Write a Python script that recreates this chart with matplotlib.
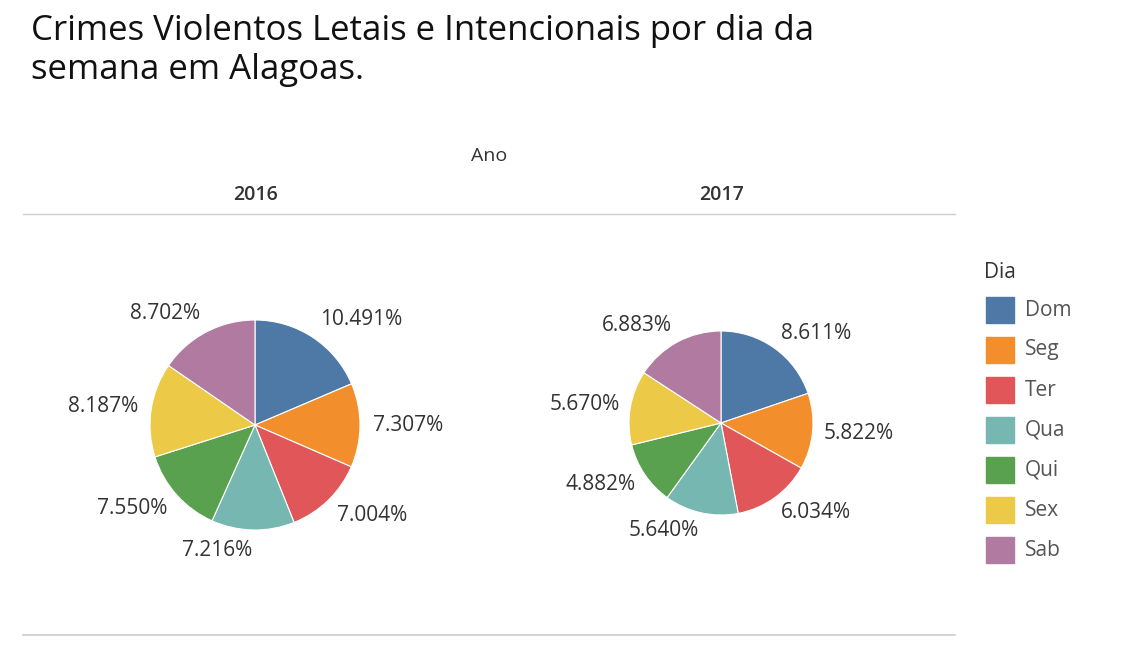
import matplotlib
matplotlib.use("Agg")
import numpy as np
import matplotlib.pyplot as plt
from matplotlib.patches import Rectangle

plt.rcParams['font.family'] = ['Open Sans', 'DejaVu Sans']

dias = ["Dom", "Seg", "Ter", "Qua", "Qui", "Sex", "Sab"]
anos = ["2016", "2017"]
pct_2016 = [10.491, 7.307, 7.004, 7.216, 7.550, 8.187, 8.702]
pct_2017 = [8.611, 5.822, 6.034, 5.640, 4.882, 5.670, 6.883]
cores = ["#4E79A7", "#F28E2B", "#E15759", "#76B7B2", "#59A14F", "#EDC948", "#B07AA1"]

W, H = 1132, 668
fig = plt.figure(figsize=(W / 100, H / 100), dpi=100)
ax = fig.add_axes([0, 0, 1, 1])

def Y(py):
    return H - py

fig.text(31 / W, 1 - 14 / H, "Crimes Violentos Letais e Intencionais por dia da\nsemana em Alagoas.",
         fontsize=25, va="top", ha="left", color="#111111", linespacing=1.2)
ax.text(489, Y(156), "Ano", fontsize=14, ha="center", va="center", color="#333333")
for ano, x in zip(anos, [256, 721]):
    ax.text(x, Y(195), ano, fontsize=14, ha="center", va="center", color="#333333", fontweight="semibold")
ax.plot([23, 955], [Y(214), Y(214)], color="#cccccc", lw=1)
ax.plot([23, 955], [Y(635), Y(635)], color="#cccccc", lw=1.2)

centros = [(255, 425), (721, 423)]
raios = [105, 92]
for vals, (cx, cy), r in zip([pct_2016, pct_2017], centros, raios):
    wedges, _ = ax.pie(vals, colors=cores, startangle=90, counterclock=False, center=(cx, Y(cy)),
                       radius=r, wedgeprops=dict(linewidth=0.8, edgecolor="white"), frame=True)
    for w, v in zip(wedges, vals):
        ang = np.radians((w.theta1 + w.theta2) / 2)
        dx, dy = np.cos(ang), np.sin(ang)
        tx, ty = cx + 1.12 * r * dx, Y(cy) + 1.2 * r * dy
        ax.text(tx, ty, f"{v:.3f}%", fontsize=15, color="#333333",
                ha="left" if dx > 0 else "right", va="center")
ax.set_xlim(0, W); ax.set_ylim(0, H); ax.set_aspect("equal"); ax.axis("off")

ax.text(984, Y(273), "Dia", fontsize=15, ha="left", va="center", color="#333333")
for i, (d, c) in enumerate(zip(dias, cores)):
    yy = 310 + 40 * i
    ax.add_patch(Rectangle((986, Y(yy) - 13), 28, 26, color=c))
    ax.text(1025, Y(yy), d, fontsize=15, ha="left", va="center", color="#555555")

fig.savefig("out.png", dpi=100)
